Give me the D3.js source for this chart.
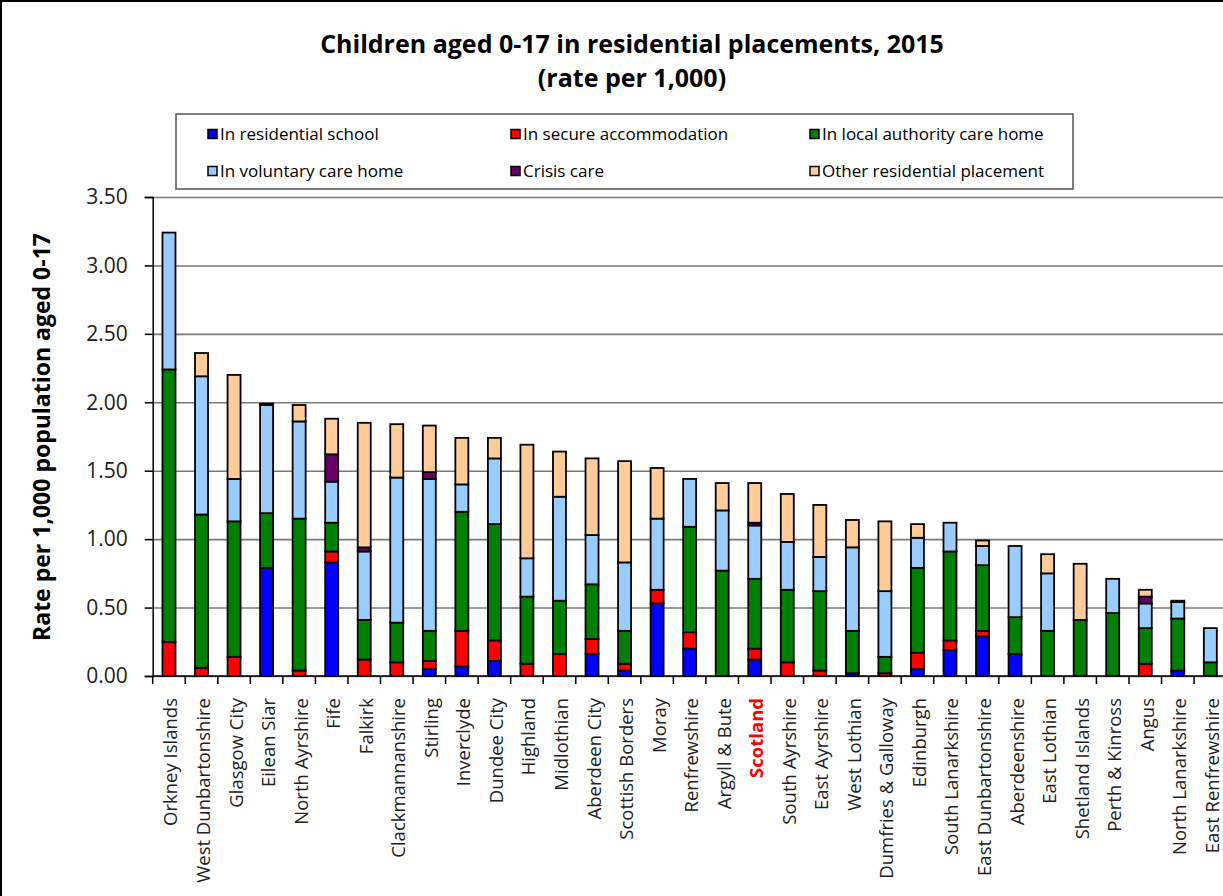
<!DOCTYPE html>
<html>
<head>
<meta charset="utf-8">
<script src="https://cdn.jsdelivr.net/npm/d3@7"></script>
<style>
  body { margin: 0; background: #fff; }
  text { font-family: 'Open Sans', 'DejaVu Sans', sans-serif; }
</style>
</head>
<body>
<svg id="chart"></svg>
<script>
const categories = ['Orkney Islands', 'West Dunbartonshire', 'Glasgow City', 'Eilean Siar', 'North Ayrshire',
  'Fife', 'Falkirk', 'Clackmannanshire', 'Stirling', 'Inverclyde', 'Dundee City', 'Highland', 'Midlothian',
  'Aberdeen City', 'Scottish Borders', 'Moray', 'Renfrewshire', 'Argyll & Bute', 'Scotland', 'South Ayrshire',
  'East Ayrshire', 'West Lothian', 'Dumfries & Galloway', 'Edinburgh', 'South Lanarkshire', 'East Dunbartonshire',
  'Aberdeenshire', 'East Lothian', 'Shetland Islands', 'Perth & Kinross', 'Angus', 'North Lanarkshire',
  'East Renfrewshire']

const residentialSchool = [0, 0, 0, 0.79, 0, 0.83, 0, 0, 0.05, 0.07, 0.11, 0, 0, 0.16, 0.04, 0.53, 0.20, 0,
  0.12, 0, 0, 0.02, 0, 0.05, 0.19, 0.29, 0.16, 0, 0, 0, 0, 0.04, 0]
const secureAccommodation = [0.25, 0.06, 0.14, 0, 0.04, 0.08, 0.12, 0.10, 0.06, 0.26, 0.15, 0.09, 0.16, 0.11,
  0.05, 0.10, 0.12, 0, 0.08, 0.10, 0.04, 0, 0.02, 0.12, 0.07, 0.04, 0, 0, 0, 0, 0.09, 0, 0]
const localAuthorityHome = [1.99, 1.12, 0.99, 0.40, 1.11, 0.21, 0.29, 0.29, 0.22, 0.87, 0.85, 0.49, 0.39, 0.40,
  0.24, 0, 0.77, 0.77, 0.51, 0.53, 0.58, 0.31, 0.12, 0.62, 0.65, 0.48, 0.27, 0.33, 0.41, 0.46, 0.26, 0.38, 0.10]
const voluntaryHome = [1.00, 1.01, 0.31, 0.79, 0.71, 0.30, 0.50, 1.06, 1.11, 0.20, 0.48, 0.28, 0.76, 0.36,
  0.50, 0.52, 0.35, 0.44, 0.39, 0.35, 0.25, 0.61, 0.48, 0.22, 0.21, 0.14, 0.52, 0.42, 0, 0.25, 0.18, 0.12, 0.25]
const crisisCare = [0, 0, 0, 0, 0, 0.20, 0.03, 0, 0.05, 0, 0, 0, 0, 0, 0, 0, 0, 0, 0.02, 0, 0, 0, 0, 0, 0, 0,
  0, 0, 0, 0, 0.05, 0, 0]
const otherPlacement = [0, 0.17, 0.76, 0.01, 0.12, 0.26, 0.91, 0.39, 0.34, 0.34, 0.15, 0.83, 0.33, 0.56,
  0.74, 0.37, 0, 0.20, 0.29, 0.35, 0.38, 0.20, 0.51, 0.10, 0, 0.04, 0, 0.14, 0.41, 0, 0.05, 0.01, 0]

const seriesNames = ['In residential school', 'In secure accommodation', 'In local authority care home',
  'In voluntary care home', 'Crisis care', 'Other residential placement']
const seriesColors = ['#0000ff', '#ff0000', '#008000', '#99ccff', '#660066', '#ffcc99']
const yTicks = [0, 0.5, 1, 1.5, 2, 2.5, 3, 3.5]

const width = 1223
const height = 896
const plot = { left: 152.7, right: 1226.6, top: 197, bottom: 676 }

const svg = d3.select('#chart')
  .attr('width', width)
  .attr('height', height)

svg.append('rect')
  .attr('x', 1).attr('y', 1)
  .attr('width', width + 10).attr('height', height + 10)
  .attr('fill', '#fff')
  .attr('stroke', '#000')
  .attr('stroke-width', 2)

// Title
svg.append('text')
  .attr('x', 632).attr('y', 53)
  .attr('text-anchor', 'middle')
  .attr('font-size', '25px').attr('font-weight', 'bold')
  .text('Children aged 0-17 in residential placements, 2015')
svg.append('text')
  .attr('x', 632).attr('y', 87)
  .attr('text-anchor', 'middle')
  .attr('font-size', '25px').attr('font-weight', 'bold')
  .text('(rate per 1,000)')

// Legend
svg.append('rect')
  .attr('x', 176).attr('y', 114)
  .attr('width', 897).attr('height', 75)
  .attr('fill', '#fff')
  .attr('stroke', '#555')
  .attr('stroke-width', 1.5)

const legendCols = [208, 511, 810]
const legendRows = [134, 171]
const legendItem = svg.selectAll('.legend-item')
  .data(seriesNames)
  .enter().append('g')
  .attr('class', 'legend-item')
  .attr('transform', (d, i) => `translate(${legendCols[i % 3]},${legendRows[Math.floor(i / 3)]})`)

legendItem.append('rect')
  .attr('x', 0).attr('y', -4.5)
  .attr('width', 9).attr('height', 9)
  .attr('fill', (d, i) => seriesColors[i])
  .attr('stroke', '#000')
  .attr('stroke-width', 1.5)

legendItem.append('text')
  .attr('x', 12)
  .attr('dy', '0.35em')
  .attr('font-size', '17px')
  .text(d => d)

// Scales
const xScale = d3.scaleBand()
  .domain(categories)
  .range([plot.left, plot.right])

const yScale = d3.scaleLinear()
  .domain([0, 3.5])
  .range([plot.bottom, plot.top])

// Gridlines
svg.append('g')
  .attr('transform', `translate(${plot.left},0)`)
  .call(d3.axisLeft(yScale).tickValues(yTicks).tickSize(-(plot.right - plot.left)).tickFormat(''))
  .call(g => g.select('.domain').remove())
  .selectAll('line')
  .attr('stroke', '#7a7a7a')
  .attr('stroke-width', 1.6)

// Stacked bars
const rows = categories.map((c, i) => ({
  name: c,
  s0: residentialSchool[i],
  s1: secureAccommodation[i],
  s2: localAuthorityHome[i],
  s3: voluntaryHome[i],
  s4: crisisCare[i],
  s5: otherPlacement[i]
}))
const keys = ['s0', 's1', 's2', 's3', 's4', 's5']
const stacked = d3.stack().keys(keys)(rows)

const barWidth = 13
svg.selectAll('.series')
  .data(stacked)
  .enter().append('g')
  .attr('class', 'series')
  .attr('fill', (d, i) => seriesColors[i])
  .selectAll('rect')
  .data(d => d.filter(p => p[1] - p[0] > 0))
  .enter().append('rect')
  .attr('x', d => xScale(d.data.name) + xScale.bandwidth() / 2 - barWidth / 2)
  .attr('y', d => yScale(d[1]))
  .attr('width', barWidth)
  .attr('height', d => yScale(d[0]) - yScale(d[1]))
  .attr('stroke', '#000')
  .attr('stroke-width', 1.8)

// Y axis
const yAxis = svg.append('g')
  .attr('transform', `translate(${plot.left},0)`)
  .call(d3.axisLeft(yScale).tickValues(yTicks).tickSize(8).tickPadding(17).tickFormat(d3.format('.2f')))
yAxis.select('.domain').attr('stroke', '#000').attr('stroke-width', 1.5)
yAxis.selectAll('line').attr('stroke', '#000').attr('stroke-width', 1.5)
yAxis.selectAll('text')
  .attr('font-size', '21px')
  .attr('fill', '#222')
  .style('font-family', "'Open Sans', sans-serif")

svg.append('text')
  .attr('transform', 'translate(50,437) rotate(-90)')
  .attr('text-anchor', 'middle')
  .attr('font-size', '23px')
  .attr('font-weight', 'bold')
  .text('Rate per 1,000 population aged 0-17')

// X axis
svg.append('line')
  .attr('x1', plot.left).attr('x2', plot.right)
  .attr('y1', plot.bottom).attr('y2', plot.bottom)
  .attr('stroke', '#000')
  .attr('stroke-width', 1.5)

svg.selectAll('.xtick')
  .data(categories)
  .enter().append('line')
  .attr('class', 'xtick')
  .attr('x1', d => xScale(d)).attr('x2', d => xScale(d))
  .attr('y1', plot.bottom).attr('y2', plot.bottom + 8)
  .attr('stroke', '#000')
  .attr('stroke-width', 1.5)

const xAxis = svg.append('g')
  .attr('transform', `translate(0,${plot.bottom})`)
  .call(d3.axisBottom(xScale).tickSize(0).tickPadding(0))
xAxis.select('.domain').remove()
xAxis.selectAll('text')
  .attr('transform', 'rotate(-90)')
  .attr('text-anchor', 'end')
  .attr('x', -22)
  .attr('y', 2)
  .attr('dy', '0.35em')
  .attr('font-size', '18.5px')
  .attr('fill', d => d === 'Scotland' ? '#ff0000' : '#222')
  .attr('font-weight', d => d === 'Scotland' ? 'bold' : 'normal')
  .style('font-family', "'Open Sans', sans-serif")
</script>
</body>
</html>
